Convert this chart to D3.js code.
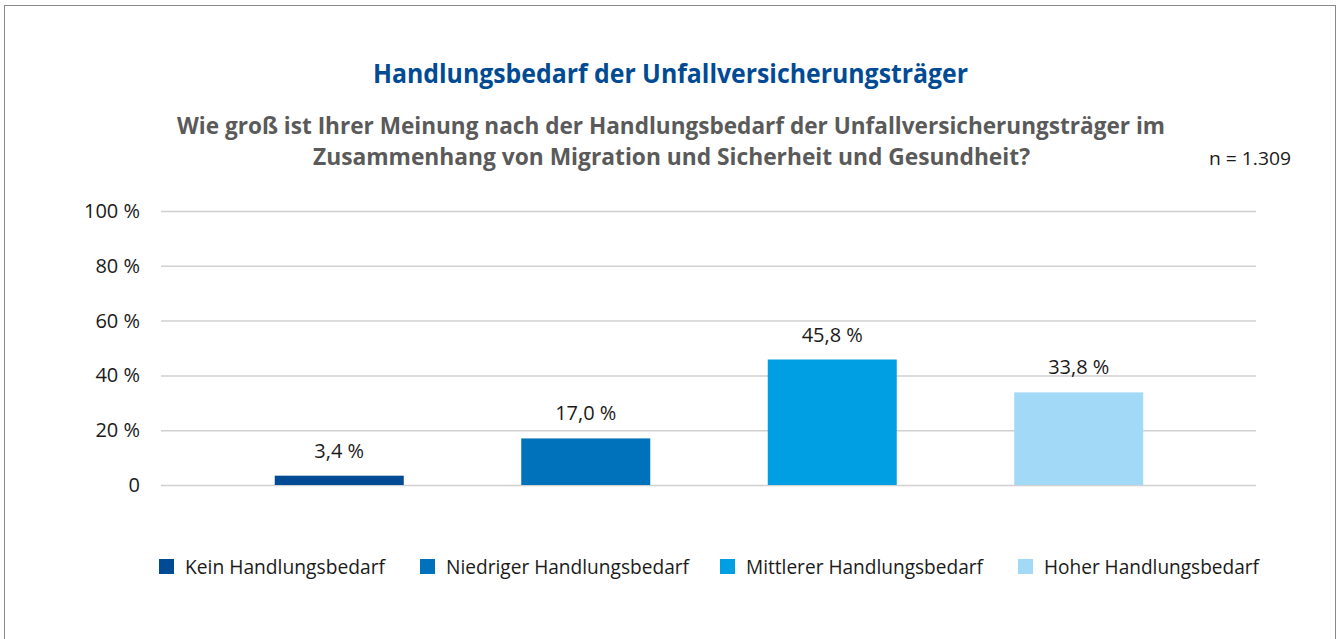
<!DOCTYPE html>
<html>
<head>
<meta charset="utf-8">
<script src="https://cdn.jsdelivr.net/npm/d3@7"></script>
<style>
  html, body { margin: 0; padding: 0; background: #fff; }
  svg { display: block; font-family: "Open Sans", "Noto Sans", sans-serif; }
</style>
</head>
<body>
<svg id="chart" width="1338" height="639"></svg>
<script>
const categories = ["Kein Handlungsbedarf", "Niedriger Handlungsbedarf", "Mittlerer Handlungsbedarf", "Hoher Handlungsbedarf"];
const values = [3.4, 17.0, 45.8, 33.8];
const colors = ["#004b93", "#0071bb", "#009fe3", "#a2d9f6"];
const yTicks = [0, 20, 40, 60, 80, 100];
const title = "Handlungsbedarf der Unfallversicherungsträger";
const subtitle = ["Wie groß ist Ihrer Meinung nach der Handlungsbedarf der Unfallversicherungsträger im",
                  "Zusammenhang von Migration und Sicherheit und Gesundheit?"];
const sampleNote = "n = 1.309";

const fmt = v => v.toFixed(1).replace(".", ",") + " %";

const svg = d3.select("#chart");

// outer frame
svg.append("rect")
  .attr("x", 4.5).attr("y", 5.5)
  .attr("width", 1331).attr("height", 640)
  .attr("fill", "none").attr("stroke", "#8a8a8a").attr("stroke-width", 1);

// titles
svg.append("text")
  .attr("x", 670.5).attr("y", 83)
  .attr("text-anchor", "middle")
  .attr("font-size", 27).attr("font-weight", "bold")
  .attr("fill", "#004b93")
  .attr("textLength", 595).attr("lengthAdjust", "spacingAndGlyphs")
  .text(title);

const subWidths = [988, 717];
subtitle.forEach((s, i) => {
  svg.append("text")
    .attr("x", i === 0 ? 671 : 671.5).attr("y", 134 + i * 31)
    .attr("text-anchor", "middle")
    .attr("font-size", 24).attr("font-weight", "bold")
    .attr("fill", "#5a5a5a")
    .attr("textLength", subWidths[i]).attr("lengthAdjust", "spacingAndGlyphs")
    .text(s);
});

svg.append("text")
  .attr("x", 1291).attr("y", 165)
  .attr("text-anchor", "end")
  .attr("font-size", 19).attr("fill", "#1a1a1a")
  .attr("textLength", 82).attr("lengthAdjust", "spacingAndGlyphs")
  .text(sampleNote);

// scales
const y = d3.scaleLinear().domain([0, 100]).range([485, 211]);
const x = d3.scaleBand().domain(categories).range([216, 1202]).padding(0);

// grid lines
const grid = d3.axisLeft(y).tickValues(yTicks).tickSize(-1095).tickFormat("");
svg.append("g")
  .attr("transform", "translate(161,0)")
  .call(grid)
  .call(g => g.select(".domain").remove())
  .call(g => g.selectAll("line").attr("stroke", "#d0d0d0").attr("stroke-width", 1.5));

// y labels
const yAxis = d3.axisLeft(y).tickValues(yTicks).tickSize(0).tickPadding(0)
  .tickFormat(d => d === 0 ? "0" : d + " %");
svg.append("g")
  .attr("transform", "translate(140,0)")
  .call(yAxis)
  .call(g => g.select(".domain").remove())
  .call(g => g.selectAll("text")
    .attr("font-size", 20).attr("fill", "#1a1a1a")
    .attr("font-family", "'Open Sans', 'Noto Sans', sans-serif"));

// bars
const barW = 129;
svg.append("g").selectAll("rect")
  .data(categories)
  .join("rect")
  .attr("x", d => x(d) + (x.bandwidth() - barW) / 2)
  .attr("width", barW)
  .attr("y", (d, i) => y(values[i]))
  .attr("height", (d, i) => y(0) - y(values[i]))
  .attr("fill", (d, i) => colors[i]);

// value labels
svg.append("g").selectAll("text")
  .data(categories)
  .join("text")
  .attr("x", d => x(d) + x.bandwidth() / 2)
  .attr("y", (d, i) => y(values[i]) - 18)
  .attr("text-anchor", "middle")
  .attr("font-size", 20).attr("fill", "#1a1a1a")
  .text((d, i) => fmt(values[i]));

// legend
const legendX = [159, 420, 720, 1018];
const legendW = [200, 243, 237, 215];
const legend = svg.append("g").selectAll("g")
  .data(categories)
  .join("g")
  .attr("transform", (d, i) => `translate(${legendX[i]},559)`);
legend.append("rect")
  .attr("width", 15).attr("height", 15)
  .attr("fill", (d, i) => colors[i]);
legend.append("text")
  .attr("x", 26).attr("y", 15)
  .attr("font-size", 20).attr("fill", "#1a1a1a")
  .attr("textLength", (d, i) => legendW[i]).attr("lengthAdjust", "spacingAndGlyphs")
  .text(d => d);
</script>
</body>
</html>
